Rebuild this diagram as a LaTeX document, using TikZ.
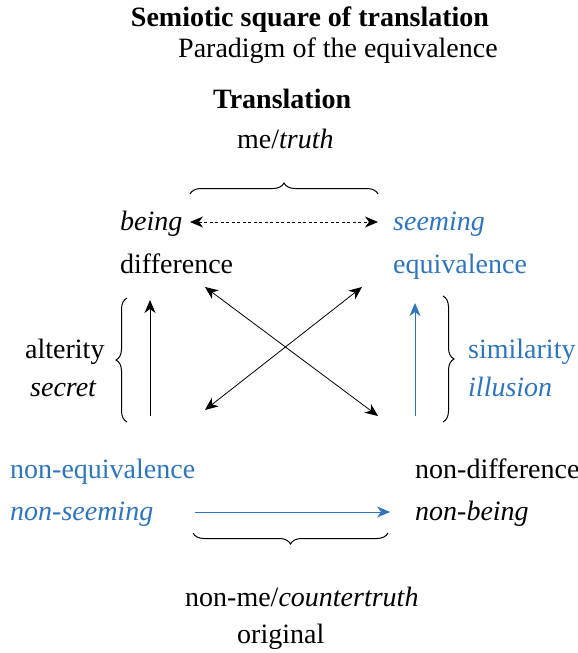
\documentclass[tikz,border=0pt]{standalone}
\usepackage{fontspec}
\setmainfont{LiberationSerif}[Extension=.ttf, UprightFont=*-Regular, BoldFont=*-Bold, ItalicFont=*-Italic, BoldItalicFont=*-BoldItalic]
\usetikzlibrary{positioning,arrows.meta,decorations.pathreplacing}
\definecolor{termblue}{RGB}{46,117,190}
\tikzset{
  tip/.tip={Stealth[length=13pt, width=11pt, inset=4pt]},
  term/.style={anchor=base west, inner sep=0pt, font=\fontsize{28}{34}\selectfont},
  bterm/.style={term, text=termblue},
  arr/.style={-tip, line width=0.8pt},
  barr/.style={tip-tip, line width=0.8pt},
  darr/.style={barr, dash pattern=on 3pt off 2.5pt},
  brc/.style={decorate, decoration={brace, amplitude=11pt}, line width=1pt}
}

\begin{document}
\begin{tikzpicture}[x=1pt, y=-1pt]
\useasboundingbox (0,0) rectangle (578,653);
% heading
\node[term, anchor=base, font=\fontsize{28}{34}\selectfont\bfseries] (title) at (310,26) {Semiotic square of translation};
\node[term] (paradigm) at (178,57) {Paradigm of the equivalence};
\node[term, font=\fontsize{28}{34}\selectfont\bfseries] (transl) at (213,108) {Translation};
\node[term] (me) at (237,148) {me/\textit{truth}};
% corners of the square
\node[term] (being) at (120,230) {\textit{being}};
\node[term] (diff) at (120,273) {difference};
\node[bterm] (seeming) at (393,230) {\textit{seeming}};
\node[bterm] (equiv) at (393,273) {equivalence};
\node[bterm] (nonequiv) at (10,478) {non-equivalence};
\node[bterm] (nonseem) at (10,520) {\textit{non-seeming}};
\node[term] (nondiff) at (415,478) {non-difference};
\node[term] (nonbeing) at (415,520) {\textit{non-being}};
% side labels
\node[term] (alter) at (25,358) {alterity};
\node[term] (secret) at (30,396) {\textit{secret}};
\node[bterm] (simil) at (468,358) {similarity};
\node[bterm] (illus) at (468,396) {\textit{illusion}};
\node[term] (nonme) at (185,606) {non-me/\textit{countertruth}};
\node[term] (orig) at (237,643) {original};
% arrow ends
\coordinate (tl) at (205,287);
\coordinate (tr) at (362,287);
\coordinate (bl) at (205,410);
\coordinate (br) at (378,416);
\coordinate (lb) at (150,416);
\coordinate (lt) at (150,300);
\coordinate (rb) at (415,416);
\coordinate (rt) at (415,303);
\coordinate (dl) at (190,222);
\coordinate (dr) at (378,222);
\coordinate (hl) at (195,512);
\coordinate (hr) at (390,512);
% connectors
\draw[darr] (dl) -- (dr);
\draw[barr] (tl) -- (br);
\draw[barr] (bl) -- (tr);
\draw[arr] (lb) -- (lt);
\draw[arr, termblue] (rb) -- (rt);
\draw[arr, termblue] (hl) -- (hr);
% braces
\draw[brc] (190,194) -- (378,194);
\draw[brc] (388,533) -- (193,533);
\draw[brc] (127,422) -- (127,298);
\draw[brc] (443,296) -- (443,422);
\end{tikzpicture}
\end{document}
